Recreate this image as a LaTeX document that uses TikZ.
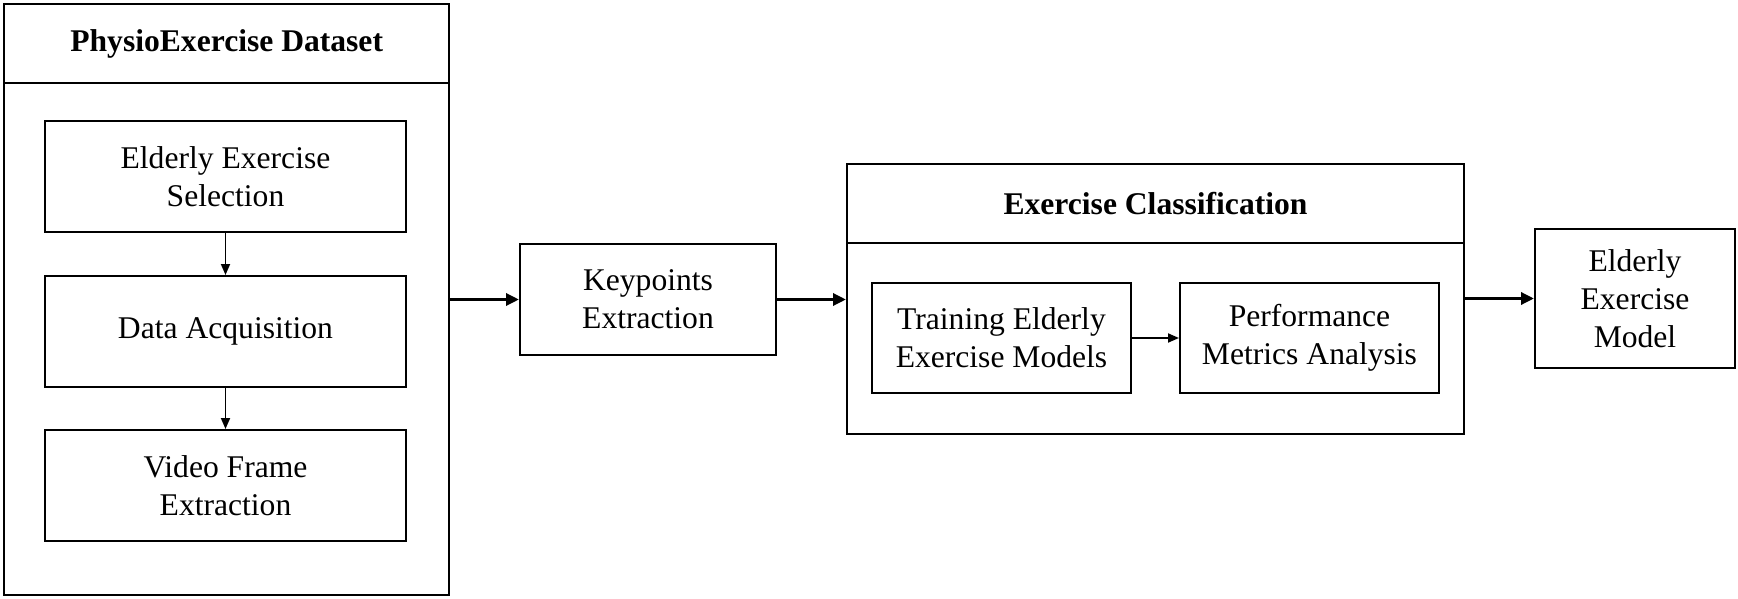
\documentclass[tikz,border=0pt]{standalone}
\usepackage{fontspec}
\setmainfont{Liberation Serif}
\usetikzlibrary{arrows.meta}

\begin{document}
\begin{tikzpicture}[x=1pt,y=-1pt]
\tikzstyle{every node}+=[inner sep=0pt]
\tikzstyle{box}=[draw, line width=2pt, align=center, font=\fontsize{31.6}{38}\selectfont]
\tikzstyle{title}=[box, font=\fontsize{31.6}{38}\selectfont\bfseries]
\tikzstyle{bigarrow}=[line width=3.2pt, -{Triangle[length=13pt,width=12pt]}]
\tikzstyle{smallarrow}=[line width=1.8pt, -{Triangle[length=11pt,width=9pt]}]
\useasboundingbox (0,0) rectangle (1738,599);
\node [title, minimum width=444.6pt, minimum height=78.6pt] (dstitle) at (226.7,43.7) {PhysioExercise Dataset};
\node [box, minimum width=444.6pt, minimum height=512pt] (dsbody) at (226.7,339) {};
\node [box, minimum width=361pt, minimum height=111pt] (select) at (225.5,176.5) {Elderly Exercise\\Selection};
\node [box, minimum width=361pt, minimum height=111pt] (acquire) at (225.5,331.5) {Data Acquisition};
\node [box, minimum width=361pt, minimum height=111pt] (frames) at (225.5,485.5) {Video Frame\\Extraction};
\node [box, minimum width=256pt, minimum height=111pt] (keypts) at (648,299.5) {Keypoints\\Extraction};
\node [title, minimum width=617pt, minimum height=79pt] (cltitle) at (1155.5,203.5) {Exercise Classification};
\node [box, minimum width=617pt, minimum height=191pt] (clbody) at (1155.5,338.5) {};
\node [box, minimum width=259pt, minimum height=110pt] (train) at (1001.5,338) {Training Elderly\\Exercise Models};
\node [box, minimum width=259pt, minimum height=110pt] (perf) at (1309.5,338) {Performance\\Metrics Analysis};
\node [box, minimum width=200pt, minimum height=139pt] (model) at (1635,298.5) {Elderly\\Exercise\\Model};
\draw [smallarrow] (select.south) -- (acquire.north);
\draw [smallarrow] (acquire.south) -- (frames.north);
\draw [smallarrow] (train.east) -- (perf.west);
\draw [bigarrow] (keypts.west -| dsbody.east) -- (keypts.west);
\draw [bigarrow] (keypts.east) -- (keypts.east -| clbody.west);
\draw [bigarrow] (model.west -| clbody.east) -- (model.west);
\end{tikzpicture}
\end{document}
